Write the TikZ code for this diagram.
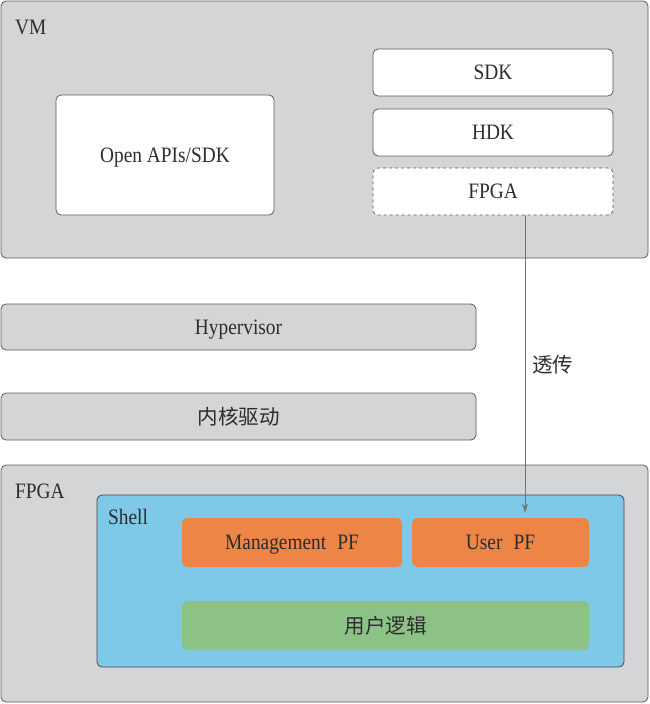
\documentclass[tikz,border=0pt]{standalone}
\usepackage{fontspec}
\setmainfont{Liberation Serif}[FakeStretch=0.88]
\newfontfamily\cjk{Noto Sans CJK SC}
\usetikzlibrary{arrows.meta}
\definecolor{boxgray}{RGB}{212,213,215}
\definecolor{edgegray}{RGB}{90,90,92}
\definecolor{txtgray}{RGB}{45,45,45}
\definecolor{shellblue}{RGB}{126,200,232}
\definecolor{pforange}{RGB}{236,133,70}
\definecolor{logicgreen}{RGB}{140,194,134}
\tikzset{
  base/.style={rounded corners=5pt, line width=0.8pt, inner sep=0pt, text=txtgray,
    font=\fontsize{22}{24}\selectfont, text height=14.6pt, text depth=0pt},
  graybox/.style={base, draw=edgegray, fill=boxgray},
  whitebox/.style={base, draw=edgegray, fill=white},
  dashbox/.style={base, draw=edgegray, fill=white, dashed},
  shellbox/.style={base, draw=edgegray!80!black, fill=shellblue},
  pfbox/.style={base, fill=pforange, draw=none},
  logicbox/.style={base, fill=logicgreen, draw=none},
  cjktext/.style={font=\cjk\fontsize{20.5}{22}\selectfont, text height=15.8pt, text depth=0pt},
  lbl/.style={anchor=base west, text=txtgray, inner sep=0pt, font=\fontsize{22}{24}\selectfont},
  link/.style={draw=gray!90!black, line width=0.7pt, -{Stealth[length=9pt,width=6pt]}}
}
\begin{document}
\begin{tikzpicture}[x=1pt,y=-1pt]
\useasboundingbox (0,0) rectangle (650,704);
% VM
\node[graybox, minimum width=647pt, minimum height=257pt] (vm) at (324.5,129.5) {};
\node[lbl] (vmlbl) at (15,34) {VM};
\node[whitebox, minimum width=218pt, minimum height=120pt] (api) at (165,155) {Open APIs/SDK};
\node[whitebox, minimum width=240pt, minimum height=47pt] (sdk) at (493,72.5) {SDK};
\node[whitebox, minimum width=240pt, minimum height=47pt] (hdk) at (493,132.5) {HDK};
\node[dashbox, minimum width=240pt, minimum height=47pt] (fpgav) at (493,191.5) {FPGA};
% middle layers
\node[graybox, minimum width=475pt, minimum height=46pt] (hyp) at (238.5,327) {Hypervisor};
\node[graybox, cjktext, minimum width=475pt, minimum height=47pt] (kern) at (238.5,416.5) {内核驱动};
% FPGA
\node[graybox, minimum width=647pt, minimum height=237pt] (fpga) at (324.5,583.5) {};
\node[lbl] (fpgalbl) at (15,498) {FPGA};
\node[shellbox, minimum width=527pt, minimum height=172pt] (shell) at (360.5,581) {};
\node[lbl] (shelllbl) at (108,524) {Shell};
\node[pfbox, minimum width=220pt, minimum height=49pt] (mgmt) at (292,542.5) {Management\hspace{0.5em}PF};
\node[pfbox, minimum width=177pt, minimum height=49pt] (user) at (500.5,542.5) {User\hspace{0.5em}PF};
\node[logicbox, cjktext, minimum width=407pt, minimum height=49pt] (logic) at (385.5,625.5) {用户逻辑};
% pass-through arrow
\coordinate (ax) at (525,0);
\draw[link, shorten >=5pt] (fpgav.south -| ax) -- (user.north -| ax);
\node[anchor=west, inner sep=0pt, text=txtgray, cjktext] (tc) at (532,365) {透传};
\end{tikzpicture}
\end{document}
